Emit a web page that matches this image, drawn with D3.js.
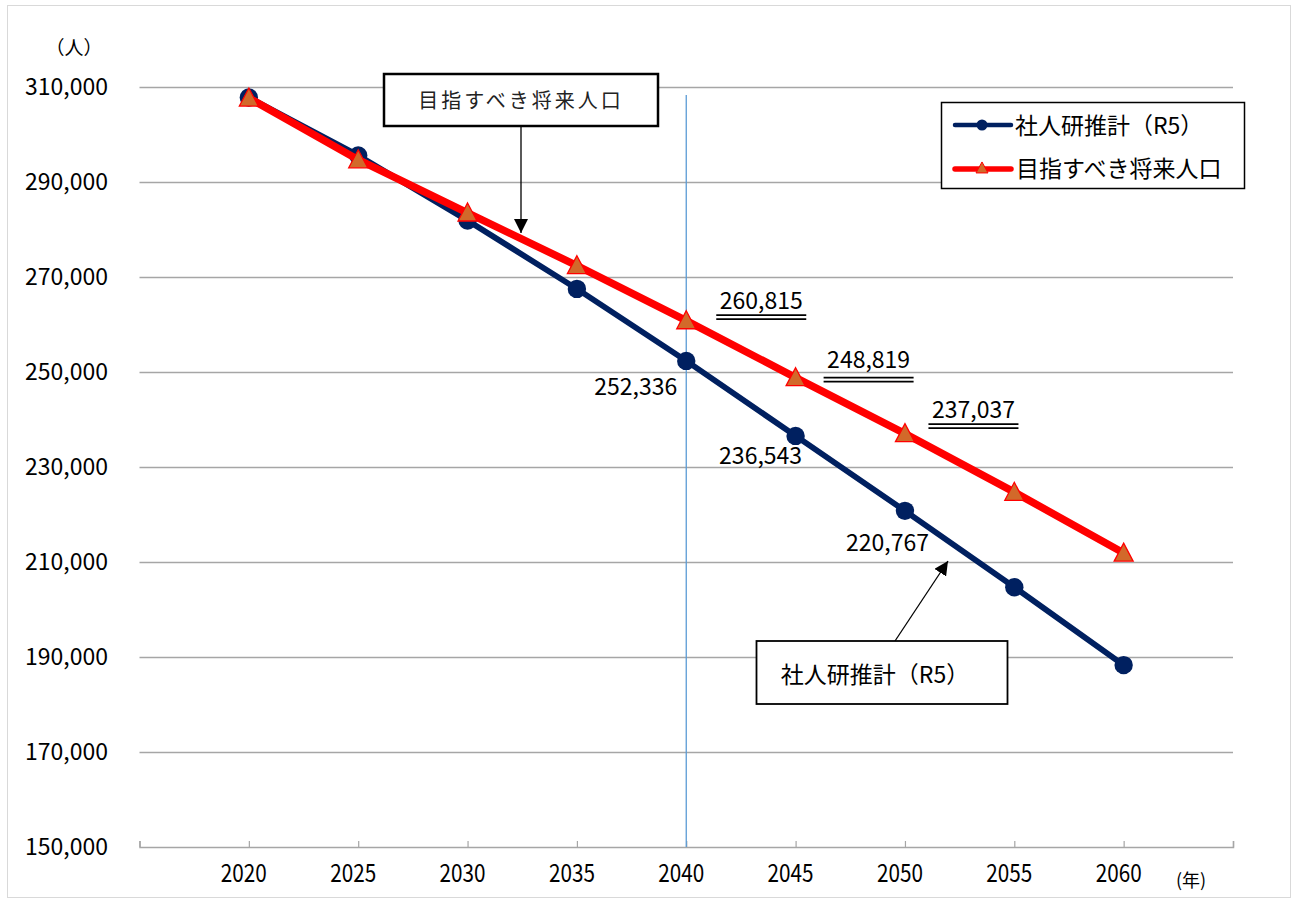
<!DOCTYPE html>
<html>
<head>
<meta charset="utf-8">
<script src="https://cdn.jsdelivr.net/npm/d3@7"></script>
<style>
  html, body { margin: 0; padding: 0; background: #fff; }
  svg { display: block; }
  text { font-family: "Noto Sans CJK JP", "Noto Sans", sans-serif; fill: #000; }
</style>
</head>
<body>
<svg id="chart" width="1298" height="898"></svg>
<script>
// ---- data ----
const years = [2020, 2025, 2030, 2035, 2040, 2045, 2050, 2055, 2060];
const ipssR5 = [307800, 295600, 281900, 267500, 252336, 236543, 220767, 204700, 188300];
const targetPop = [307700, 294700, 283500, 272400, 260815, 248819, 237037, 224700, 211900];
const seriesNames = ["社人研推計（R5）", "目指すべき将来人口"];
const yTicks = [150000, 170000, 190000, 210000, 230000, 250000, 270000, 290000, 310000];
const yUnit = "（人）";
const xUnit = "(年)";
const blueLabelYears = [2040, 2045, 2050];
const redLabelYears = [2040, 2045, 2050];
const annotationTexts = ["目指すべき将来人口", "社人研推計（R5）"];

// ---- layout ----
const svg = d3.select("#chart");
const x = d3.scaleLinear().domain([2015, 2065]).range([139.5, 1233]);
const y = d3.scaleLinear().domain([150000, 310000]).range([847, 87]);
const fmt = d3.format(",");
const BLUE = "#002060", RED = "#FF0000", TRI = "#D2692A";

// outer border
svg.append("rect").attr("x", 7.5).attr("y", 5.5).attr("width", 1283).attr("height", 892)
  .attr("fill", "none").attr("stroke", "#D9D9D9").attr("stroke-width", 1);

// gridlines
svg.append("g").selectAll("line").data(yTicks.filter(d => d !== 150000)).join("line")
  .attr("x1", x(2015)).attr("x2", x(2065))
  .attr("y1", d => Math.round(y(d)) + 0.5).attr("y2", d => Math.round(y(d)) + 0.5)
  .attr("stroke", "#A6A6A6").attr("stroke-width", 1.3);

// x axis
const xAxis = svg.append("g").attr("transform", `translate(0,${y(150000)})`)
  .call(d3.axisTop(x).tickValues(d3.range(2015, 2066, 5)).tickSize(6).tickFormat(""));
xAxis.select(".domain").attr("stroke", "#A6A6A6").attr("stroke-width", 1.5);
xAxis.selectAll(".tick line").attr("stroke", "#A6A6A6").attr("stroke-width", 1.2);

svg.append("g").selectAll("text").data(years).join("text")
  .attr("x", d => x(d) - 5).attr("y", 882)
  .attr("text-anchor", "middle").attr("font-size", 25)
  .attr("textLength", 46).attr("lengthAdjust", "spacingAndGlyphs").text(d => d);

// y tick labels
svg.append("g").selectAll("text").data(yTicks).join("text")
  .attr("x", 108).attr("y", d => y(d) + 8)
  .attr("text-anchor", "end").attr("font-size", 23.5)
  .attr("textLength", 83).attr("lengthAdjust", "spacingAndGlyphs").text(d => fmt(d));

svg.append("text").attr("x", 74).attr("y", 55).attr("text-anchor", "middle")
  .attr("font-size", 19).text(yUnit);
svg.append("text").attr("x", 1191).attr("y", 887).attr("text-anchor", "middle")
  .attr("font-size", 18).text(xUnit);

// vertical reference line at 2040
svg.append("line").attr("x1", x(2040)).attr("x2", x(2040)).attr("y1", 95).attr("y2", y(150000))
  .attr("stroke", "#5B9BD5").attr("stroke-width", 1.3);

// lines
const line = d3.line().x(d => x(d[0])).y(d => y(d[1]));
const blueData = years.map((yr, i) => [yr, ipssR5[i]]);
const redData = years.map((yr, i) => [yr, targetPop[i]]);

svg.append("path").datum(blueData).attr("d", line).attr("fill", "none")
  .attr("stroke", BLUE).attr("stroke-width", 5.8).attr("stroke-linejoin", "round");
svg.append("g").selectAll("circle").data(blueData).join("circle")
  .attr("cx", d => x(d[0])).attr("cy", d => y(d[1])).attr("r", 9.2).attr("fill", BLUE);

svg.append("path").datum(redData).attr("d", line).attr("fill", "none")
  .attr("stroke", RED).attr("stroke-width", 7.5).attr("stroke-linejoin", "round");

function triPath(cx, cy, w, h) {
  return `M${cx},${cy - h * 0.55}L${cx + w / 2},${cy + h * 0.45}L${cx - w / 2},${cy + h * 0.45}Z`;
}
svg.append("g").selectAll("path").data(redData).join("path")
  .attr("d", d => triPath(x(d[0]), y(d[1]), 19, 18))
  .attr("fill", TRI).attr("stroke", RED).attr("stroke-width", 1.3);

// data labels (blue series)
const blueOff = { 2040: [-50.5, 34], 2045: [-35, 28], 2050: [-17.5, 40] };
svg.append("g").selectAll("text").data(blueData.filter(d => blueLabelYears.includes(d[0]))).join("text")
  .attr("x", d => x(d[0]) + blueOff[d[0]][0]).attr("y", d => y(d[1]) + blueOff[d[0]][1])
  .attr("text-anchor", "middle").attr("font-size", 23)
  .attr("textLength", 83).attr("lengthAdjust", "spacingAndGlyphs").text(d => fmt(d[1]));

// data labels (red series) with double underline
const redOff = { 2040: [75, -11.5, 6], 2045: [73, -9.5, 9.5], 2050: [68.5, -15.5, 6] };
const rl = svg.append("g").selectAll("g").data(redData.filter(d => redLabelYears.includes(d[0]))).join("g")
  .attr("transform", d => `translate(${x(d[0]) + redOff[d[0]][0]},${y(d[1]) + redOff[d[0]][1]})`);
rl.append("text").attr("text-anchor", "middle").attr("font-size", 23)
  .attr("textLength", 83).attr("lengthAdjust", "spacingAndGlyphs").text(d => fmt(d[1]));
rl.append("line").attr("x1", -45).attr("x2", 45).attr("y1", d => redOff[d[0]][2]).attr("y2", d => redOff[d[0]][2])
  .attr("stroke", "#000").attr("stroke-width", 1.8);
rl.append("line").attr("x1", -45).attr("x2", 45).attr("y1", d => redOff[d[0]][2] + 4).attr("y2", d => redOff[d[0]][2] + 4)
  .attr("stroke", "#000").attr("stroke-width", 1.8);

// arrow marker
const defs = svg.append("defs");
defs.append("marker").attr("id", "arrow").attr("viewBox", "0 0 10 10")
  .attr("refX", 10).attr("refY", 5).attr("markerWidth", 14).attr("markerHeight", 14)
  .attr("markerUnits", "userSpaceOnUse").attr("orient", "auto")
  .append("path").attr("d", "M0,0L10,5L0,10Z").attr("fill", "#000");

// annotation 1
svg.append("line").attr("x1", 521).attr("y1", 127).attr("x2", 521).attr("y2", 233)
  .attr("stroke", "#000").attr("stroke-width", 1.3).attr("marker-end", "url(#arrow)");
svg.append("rect").attr("x", 384).attr("y", 74).attr("width", 274).attr("height", 52)
  .attr("fill", "#fff").attr("stroke", "#000").attr("stroke-width", 2.5);
svg.append("text").attr("x", 521).attr("y", 108).attr("text-anchor", "middle")
  .attr("font-size", 20).attr("letter-spacing", 3).style("fill", "#222").text(annotationTexts[0]);

// annotation 2
svg.append("line").attr("x1", 895).attr("y1", 641).attr("x2", 948).attr("y2", 561)
  .attr("stroke", "#000").attr("stroke-width", 1.3).attr("marker-end", "url(#arrow)");
svg.append("rect").attr("x", 756.5).attr("y", 641).attr("width", 251).attr("height", 63)
  .attr("fill", "#fff").attr("stroke", "#000").attr("stroke-width", 1.8);
svg.append("text").attr("x", 875).attr("y", 683).attr("text-anchor", "middle")
  .attr("font-size", 23).text(annotationTexts[1]);

// legend
const lg = svg.append("g");
lg.append("rect").attr("x", 941.5).attr("y", 102.5).attr("width", 303).attr("height", 86)
  .attr("fill", "#fff").attr("stroke", "#000").attr("stroke-width", 1.5);
lg.append("line").attr("x1", 955).attr("x2", 1011).attr("y1", 125).attr("y2", 125)
  .attr("stroke", BLUE).attr("stroke-width", 4.5).attr("stroke-linecap", "round");
lg.append("circle").attr("cx", 982).attr("cy", 125).attr("r", 5.5).attr("fill", BLUE);
lg.append("text").attr("x", 1015).attr("y", 134).attr("font-size", 23).text(seriesNames[0]);
lg.append("line").attr("x1", 955).attr("x2", 1011).attr("y1", 169).attr("y2", 169)
  .attr("stroke", RED).attr("stroke-width", 5.5).attr("stroke-linecap", "round");
lg.append("path").attr("d", triPath(982, 168, 12, 11)).attr("fill", TRI)
  .attr("stroke", RED).attr("stroke-width", 1);
lg.append("text").attr("x", 1016).attr("y", 177).attr("font-size", 23).text(seriesNames[1]);
</script>
</body>
</html>
